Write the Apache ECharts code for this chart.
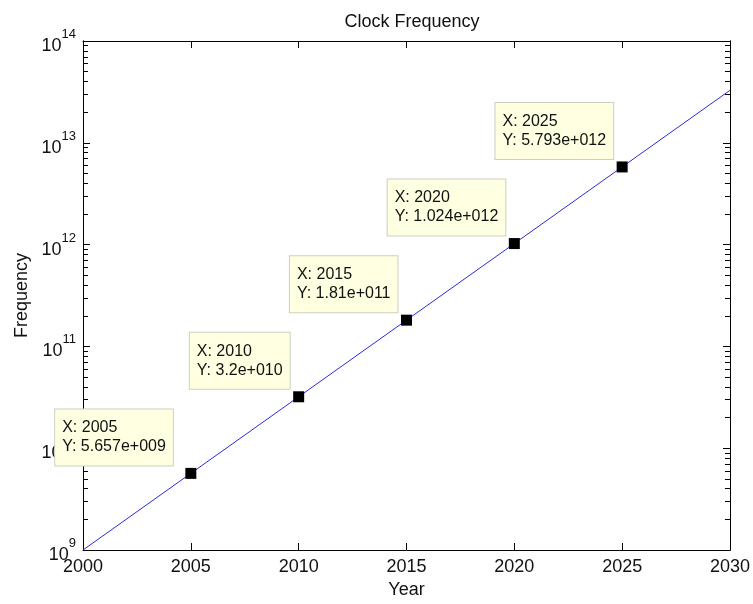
<!DOCTYPE html>
<html>
<head>
<meta charset="utf-8">
<script src="https://cdn.jsdelivr.net/npm/echarts@6/dist/echarts.min.js"></script>
<style>html,body{margin:0;padding:0;background:#fff}#c{width:753px;height:604px}</style>
</head>
<body>
<div id="c"></div>
<script>
// ---- data ----
const years = [2000, 2005, 2010, 2015, 2020, 2025, 2030];
const freq = [1e9, 5.657e9, 3.2e10, 1.81e11, 1.024e12, 5.793e12, 3.277e13];
const tipYears = [2005, 2010, 2015, 2020, 2025];
const tipFreq = [5.657e9, 3.2e10, 1.81e11, 1.024e12, 5.793e12];
const tipText = ['5.657e+009', '3.2e+010', '1.81e+011', '1.024e+012', '5.793e+012'];
const tipShiftX = [-12.5, -3.5, -3.5, -3.5, -3.5];
const xTicks = [2000, 2005, 2010, 2015, 2020, 2025, 2030];
const yExps = [9, 10, 11, 12, 13, 14];

const FONT = '"Liberation Sans", Arial, Helvetica, sans-serif';
const minorVals = [];
for (let e = yExps[0]; e < yExps[yExps.length - 1]; e++) {
  for (let k = 2; k <= 9; k++) minorVals.push(k * Math.pow(10, e));
}
const majorVals = yExps.map(e => Math.pow(10, e));
const yMin = majorVals[0], yMax = majorVals[majorVals.length - 1];

const chart = echarts.init(document.getElementById('c'), null, {renderer: 'canvas'});
const lineStyle = {color: '#000', width: 1};

function yAxisBase(extra) {
  return Object.assign({
    type: 'log', logBase: 10, min: yMin, max: yMax, gridIndex: 0,
    splitLine: {show: false},
    axisLine: {show: true, lineStyle: lineStyle},
    axisTick: {show: true, inside: true, length: 7, lineStyle: lineStyle, customValues: majorVals},
    axisLabel: {show: false}
  }, extra);
}

const option = {
  animation: false,
  backgroundColor: '#fff',
  title: {
    text: 'Clock Frequency', left: 407, top: 8, textAlign: 'center',
    textStyle: {fontFamily: FONT, fontSize: 18, fontWeight: 'normal', color: '#111'}
  },
  grid: {left: 83, right: 22, top: 41, bottom: 51, containLabel: false},
  xAxis: [
    {
      type: 'value', position: 'bottom', min: xTicks[0], max: xTicks[xTicks.length - 1], interval: 5,
      name: 'Year', nameLocation: 'middle', nameGap: 31,
      nameTextStyle: {fontFamily: FONT, fontSize: 18, color: '#111'},
      splitLine: {show: false},
      axisLine: {show: true, lineStyle: lineStyle},
      axisTick: {show: true, inside: true, length: 7, lineStyle: lineStyle},
      axisLabel: {show: true, margin: 8, fontFamily: FONT, fontSize: 18, color: '#111', formatter: v => String(v)}
    },
    {
      type: 'value', position: 'top', min: xTicks[0], max: xTicks[xTicks.length - 1], interval: 5,
      splitLine: {show: false},
      axisLine: {show: true, lineStyle: lineStyle},
      axisTick: {show: true, inside: true, length: 7, lineStyle: lineStyle},
      axisLabel: {show: false}
    }
  ],
  yAxis: [
    yAxisBase({
      position: 'left',
      name: 'Frequency', nameLocation: 'middle', nameGap: 52, nameRotate: 90,
      nameTextStyle: {fontFamily: FONT, fontSize: 18, color: '#111'},
      axisLabel: {
        show: true, margin: 7, customValues: majorVals,
        formatter: v => '{b|10}{s|' + Math.round(Math.log10(v)) + '}',
        rich: {
          b: {fontFamily: FONT, fontSize: 18, color: '#111', lineHeight: 18, padding: [10, 0, 0, 0]},
          s: {fontFamily: FONT, fontSize: 13, color: '#111', lineHeight: 13, padding: [0, 0, 13, 0]}
        }
      }
    }),
    yAxisBase({position: 'left', axisTick: {show: true, inside: true, length: 5, lineStyle: lineStyle, customValues: minorVals}}),
    yAxisBase({position: 'right'}),
    yAxisBase({position: 'right', axisTick: {show: true, inside: true, length: 5, lineStyle: lineStyle, customValues: minorVals}})
  ],
  series: [
    {
      type: 'line', xAxisIndex: 0, yAxisIndex: 0,
      data: years.map((y, i) => [y, freq[i]]),
      showSymbol: false, symbol: 'none',
      lineStyle: {color: '#2a2ae0', width: 1}, z: 2
    },
    {
      type: 'scatter', xAxisIndex: 0, yAxisIndex: 0, z: 5,
      symbol: 'rect', symbolSize: 11,
      itemStyle: {color: '#000', opacity: 1},
      data: tipYears.map((y, i) => ({
        value: [y, tipFreq[i]],
        label: {position: [tipShiftX[i], -2.5]}
      })),
      label: {
        show: true, align: 'right', verticalAlign: 'bottom',
        formatter: p => '{t|X: ' + tipYears[p.dataIndex] + '}\n{t|Y: ' + tipText[p.dataIndex] + '}',
        rich: {
          t: {fontFamily: FONT, fontSize: 16, lineHeight: 19, color: '#111', align: 'left'}
        },
        fontFamily: FONT, fontSize: 16, lineHeight: 19, color: '#111',
        backgroundColor: '#ffffe1', borderColor: '#cfcfc0', borderWidth: 1,
        padding: [9, 7, 9, 7]
      }
    }
  ]
};
chart.setOption(option);
</script>
</body>
</html>
